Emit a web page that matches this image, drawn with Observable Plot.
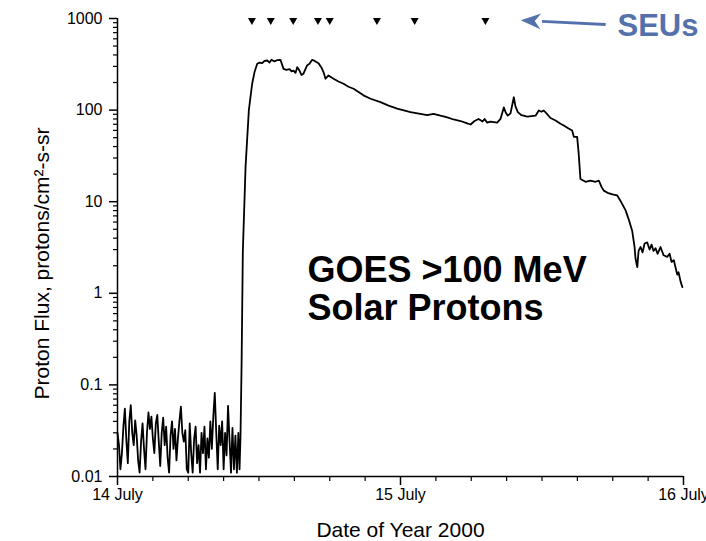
<!DOCTYPE html>
<html>
<head>
<meta charset="utf-8">
<script src="https://cdn.jsdelivr.net/npm/d3@7"></script>
<script src="https://cdn.jsdelivr.net/npm/@observablehq/plot@0.6"></script>
<style>
  html, body { margin: 0; padding: 0; background: #fff; }
  #chart { width: 706px; height: 541px; overflow: hidden; }
</style>
</head>
<body>
<div id="chart"></div>
<script>
// Hours since 14 July 2000 00:00 and GOES >100 MeV proton flux (protons/cm2-s-sr)
const quietHours = [0,0.125,0.25,0.375,0.5,0.625,0.75,0.875,1,1.125,1.25,1.375,1.5,1.625,1.75,1.875,2,2.125,2.25,2.375,2.5,2.625,2.75,2.875,3,3.125,3.25,3.375,3.5,3.625,3.75,3.875,4,4.125,4.25,4.375,4.5,4.625,4.75,4.875,5,5.125,5.25,5.375,5.5,5.625,5.75,5.875,6,6.125,6.25,6.375,6.5,6.625,6.75,6.875,7,7.125,7.25,7.375,7.5,7.625,7.75,7.875,8,8.125,8.25,8.375,8.5,8.625,8.75,8.875,9,9.125,9.25,9.375,9.5,9.625,9.75,9.875,10,10.125,10.25];
const quietFlux = [0.030,0.022,0.012,0.018,0.035,0.055,0.025,0.014,0.040,0.060,0.030,0.022,0.041,0.028,0.015,0.011,0.024,0.038,0.020,0.012,0.030,0.050,0.033,0.045,0.026,0.018,0.038,0.047,0.024,0.013,0.030,0.044,0.022,0.035,0.016,0.011,0.028,0.040,0.020,0.033,0.015,0.026,0.040,0.058,0.030,0.024,0.032,0.012,0.011,0.038,0.018,0.011,0.026,0.035,0.014,0.022,0.011,0.030,0.018,0.035,0.012,0.026,0.016,0.040,0.020,0.045,0.082,0.030,0.012,0.036,0.022,0.040,0.012,0.030,0.017,0.059,0.025,0.011,0.034,0.012,0.028,0.011,0.030];
const eventHours = [10.35,10.43,10.52,10.63,10.86,11.14,11.42,11.62,11.85,12.04,12.27,12.47,12.70,12.89,13.06,13.31,13.57,13.82,14.08,14.33,14.59,14.76,14.93,15.10,15.24,15.43,15.60,15.77,16.08,16.28,16.51,16.79,17.05,17.30,17.47,17.64,17.89,18.32,18.74,19.17,19.59,20.02,20.44,20.86,21.46,22.30,22.99,23.72,24.85,26.27,26.80,27.39,27.90,28.50,29.09,29.60,29.94,30.28,30.62,30.96,31.13,31.35,31.63,32.20,32.48,32.76,32.91,33.10,33.33,33.61,33.75,33.95,34.26,34.75,35.11,35.45,35.73,35.96,36.15,36.38,36.72,37.15,37.57,37.85,38.25,38.56,38.70,38.98,39.10,39.26,39.69,40.11,40.54,40.82,41.05,41.24,41.56,41.98,42.38,42.66,43.08,43.34,43.65,43.85,43.93,44.08,44.19,44.36,44.53,44.70,44.92,45.12,45.29,45.46,45.63,45.80,46.05,46.31,46.62,46.82,46.99,47.18,47.33,47.47,47.58,47.75,47.90];
const eventFlux = [0.012,0.027,0.156,2.9,24,100,194,260,320,330,325,345,348,330,355,340,352,354,282,275,280,265,270,255,294,270,242,250,307,320,354,340,325,290,260,220,239,220,205,194,180,171,158,145,133,122,112,104,95,88,91,87,84,79,76,72,69.6,76,80,75,80,73,75,73,80,107,95,87,92,138,110,95,88,85,86,87,99,96,99,92,82,77,71,68,63,60,51,51,35,17.7,16.5,17,16.5,17,14.5,13.2,12.5,12,11.7,10.2,8.1,6.5,4.8,3.2,2.4,1.93,2.9,3.2,2.8,3.5,3.6,3.0,3.4,2.9,3.1,2.7,3.2,2.6,2.5,2.7,2.2,2.3,1.9,1.6,1.7,1.35,1.17];
// SEU times (hours since 14 July 00:00)
const seuHours = [11.4, 13.0, 14.9, 17.0, 18.0, 22.0, 25.2, 31.2];

// Axis ticks
const yMajorTicks = [0.01, 0.1, 1, 10, 100, 1000];
const yMajorLabels = ["0.01", "0.1", "1", "10", "100", "1000"];
const yMinorTicks = [0.02,0.03,0.04,0.05,0.06,0.07,0.08,0.09,0.2,0.3,0.4,0.5,0.6,0.7,0.8,0.9,2,3,4,5,6,7,8,9,20,30,40,50,60,70,80,90,200,300,400,500,600,700,800,900];
const xMajorTicks = [0, 24, 48];
const xMajorLabels = ["14 July", "15 July", "16 July"];
const xMinorTicks = [3,6,9,12,15,18,21,27,30,33,36,39,42,45];

// SEU annotation arrow (tail near the label, head toward the last SEU)
const arrowTail = {h: 41.4, v: 860};
const arrowNeck = {h: 36.0, v: 930};
const arrowTip = {h: 34.2, v: 955};

const series = quietHours.map((h, i) => ({h, v: quietFlux[i]}))
  .concat(eventHours.map((h, i) => ({h, v: eventFlux[i]})));

const blue = "#5571AC";
const triDown = {
  draw(ctx, size) {
    const r = Math.sqrt(size / Math.PI);
    ctx.moveTo(-r, -r * 0.85);
    ctx.lineTo(r, -r * 0.85);
    ctx.lineTo(0, r * 0.85);
    ctx.closePath();
  }
};
// filled, notched arrowhead pointing left, tip at the origin
const headLeft = {
  draw(ctx) {
    const a = Math.atan2(4.5, 87), c = Math.cos(a), s = Math.sin(a);
    const pt = (x, y) => [x * c - y * s, x * s + y * c];
    const p0 = pt(0, 0), p1 = pt(20, -8), p2 = pt(14, 0), p3 = pt(20, 8);
    ctx.moveTo(p0[0], p0[1]);
    ctx.lineTo(p1[0], p1[1]);
    ctx.lineTo(p2[0], p2[1]);
    ctx.lineTo(p3[0], p3[1]);
    ctx.closePath();
  }
};

const chart = Plot.plot({
  width: 706,
  height: 541,
  marginLeft: 117,
  marginRight: 23,
  marginTop: 18,
  marginBottom: 65,
  style: {fontFamily: "'Liberation Sans', Arial, sans-serif", background: "white", color: "black", overflow: "visible"},
  x: {domain: [0, 48], axis: null},
  y: {type: "log", domain: [0.01, 1000], axis: null},
  marks: [
    Plot.axisY(yMajorTicks, {tickSize: 8, tickPadding: 7, fontSize: 16, strokeWidth: 1.5, label: null,
      tickFormat: d => yMajorLabels[yMajorTicks.indexOf(d)]}),
    Plot.axisY(yMinorTicks, {tickSize: 4, strokeWidth: 1.2, label: null, tickFormat: () => ""}),
    Plot.axisX(xMajorTicks, {tickSize: 9, tickPadding: 3, fontSize: 16, strokeWidth: 1.5, label: null,
      tickFormat: d => xMajorLabels[xMajorTicks.indexOf(d)]}),
    Plot.axisX(xMinorTicks, {tickSize: 5, strokeWidth: 1.2, label: null, tickFormat: () => ""}),
    Plot.ruleX([0], {y1: 0.01, y2: 1000, strokeWidth: 1.5}),
    Plot.ruleY([0.01], {strokeWidth: 1.5}),
    Plot.line(series, {x: "h", y: "v", stroke: "black", strokeWidth: 1.8, strokeLinejoin: "round"}),
    Plot.dot(seuHours, {x: d => d, frameAnchor: "top", dy: 3, r: 4, symbol: triDown, fill: "black", stroke: "none"}),
    Plot.text(["Proton Flux, protons/cm²-s-sr"], {text: d => d, frameAnchor: "left", dx: -75, dy: 16, rotate: -90, fontSize: 21, textAnchor: "middle", lineAnchor: "middle"}),
    Plot.text(["Date of Year 2000"], {text: d => d, frameAnchor: "bottom", dy: 46, fontSize: 21, textAnchor: "middle", lineAnchor: "top"}),
    Plot.text(["GOES >100 MeV\nSolar Protons"], {text: d => d, frameAnchor: "top-left", dx: 190, dy: 236, fontSize: 36, fontWeight: "bold", textAnchor: "start", lineAnchor: "top", lineHeight: 1.06}),
    Plot.text(["SEUs"], {text: d => d, frameAnchor: "top-left", dx: 500, dy: -5, fontSize: 31, fontWeight: "bold", fill: blue, textAnchor: "start", lineAnchor: "top"}),
    Plot.link([{a: arrowTail, b: arrowNeck}], {x1: d => d.a.h, y1: d => d.a.v, x2: d => d.b.h, y2: d => d.b.v, stroke: blue, strokeWidth: 2.8}),
    Plot.dot([arrowTip], {x: "h", y: "v", r: 5, symbol: headLeft, fill: blue, stroke: "none"})
  ]
});
document.getElementById("chart").appendChild(chart);
</script>
</body>
</html>
